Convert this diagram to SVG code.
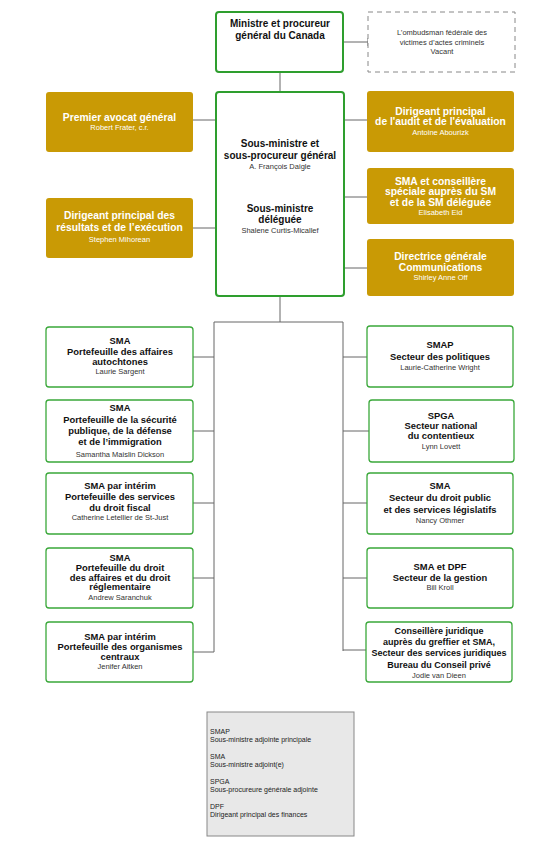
<svg xmlns="http://www.w3.org/2000/svg" width="557" height="844" viewBox="0 0 557 844">
<style>
text{font-family:"Liberation Sans",Arial,sans-serif;text-anchor:middle}
.b{font-weight:bold;font-size:10px;fill:#111}
.n{font-size:7.5px;fill:#333}
.gb{font-weight:bold;font-size:10.3px;fill:#fff}
.gn{font-size:7.5px;fill:#fff}
.lb{font-weight:bold;font-size:9.4px;fill:#111}
.gr{fill:#fff;stroke:#3aa83a;stroke-width:1.3}
.grt{fill:#fff;stroke:#2e9e2e;stroke-width:2}
.go{fill:#c99a05}
.c{stroke:#666;stroke-width:1;fill:none}
.lg{font-size:7px;fill:#222;text-anchor:start}
</style>
<rect width="557" height="844" fill="#fff"/>
<g id="connectors">
<path class="c" d="M343 42H368M368 38V46M280 72V92M193 120H216M193 228H216M344 120H367M344 197H367M344 268H367M280 296V322M214 322H343M214 322V652M343 322V651M193 357H214M193 431H214M193 503H214M193 578H214M193 652H214M343 357H367M343 431H369M343 503H367M343 578H367M343 650H366"/>
</g>
<g id="minister">
<rect class="grt" x="216" y="12" width="127" height="60" rx="3"/>
<text class="b" x="280" y="27">Ministre et procureur</text>
<text class="b" x="280" y="38.5">général du Canada</text>
</g>
<g id="ombudsman">
<rect x="368" y="12" width="147" height="60" fill="#fff" stroke="#888" stroke-width="1" stroke-dasharray="5,4"/>
<text class="n" x="442" y="35">L’ombudsman fédérale des</text>
<text class="n" x="442" y="44.5">victimes d’actes criminels</text>
<text class="n" x="442" y="53.5">Vacant</text>
</g>
<g id="sousministre">
<rect class="grt" x="216" y="92" width="128" height="204" rx="3"/>
<text class="b" x="280" y="147">Sous-ministre et</text>
<text class="b" x="280" y="159">sous-procureur général</text>
<text class="n" x="280" y="169">A. François Daigle</text>
<text class="b" x="280" y="212">Sous-ministre</text>
<text class="b" x="280" y="223">déléguée</text>
<text class="n" x="280" y="233">Shalene Curtis-Micallef</text>
</g>
<g id="premier-avocat">
<rect class="go" x="46" y="92" width="147" height="60" rx="3"/>
<text class="gb" x="119.5" y="120.5">Premier avocat général</text>
<text class="gn" x="119.5" y="129.5">Robert Frater, c.r.</text>
</g>
<g id="resultats">
<rect class="go" x="46" y="198" width="147" height="60" rx="3"/>
<text class="gb" x="119.5" y="219">Dirigeant principal des</text>
<text class="gb" x="119.5" y="231">résultats et de l’exécution</text>
<text class="gn" x="119.5" y="241.5">Stephen Mihorean</text>
</g>
<g id="audit">
<rect class="go" x="367" y="91" width="147" height="61" rx="3"/>
<text class="gb" x="440.5" y="114.5">Dirigeant principal</text>
<text class="gb" x="440.5" y="125">de l'audit et de l'évaluation</text>
<text class="gn" x="440.5" y="135">Antoine Abourizk</text>
</g>
<g id="conseillere-speciale">
<rect class="go" x="367" y="168" width="147" height="56" rx="3"/>
<text class="gb" x="440.5" y="184.5">SMA et conseillère</text>
<text class="gb" x="440.5" y="195">spéciale auprès du SM</text>
<text class="gb" x="440.5" y="205.5">et de la SM déléguée</text>
<text class="gn" x="440.5" y="215">Elisabeth Eid</text>
</g>
<g id="communications">
<rect class="go" x="367" y="239" width="147" height="57" rx="3"/>
<text class="gb" x="440.5" y="260">Directrice générale</text>
<text class="gb" x="440.5" y="271">Communications</text>
<text class="gn" x="440.5" y="280">Shirley Anne Off</text>
</g>
<g id="autochtones">
<rect class="gr" x="46" y="327" width="147" height="60" rx="3"/>
<text class="lb" x="120" y="344">SMA</text>
<text class="lb" x="120" y="354.5">Portefeuille des affaires</text>
<text class="lb" x="120" y="364.5">autochtones</text>
<text class="n" x="120" y="374">Laurie Sargent</text>
</g>
<g id="securite">
<rect class="gr" x="46" y="400" width="147" height="62" rx="3"/>
<text class="lb" x="120" y="411">SMA</text>
<text class="lb" x="120" y="422.5">Portefeuille de la sécurité</text>
<text class="lb" x="120" y="433.5">publique, de la défense</text>
<text class="lb" x="120" y="445">et de l’immigration</text>
<text class="n" x="120" y="456.5">Samantha Maislin Dickson</text>
</g>
<g id="fiscal">
<rect class="gr" x="46" y="473" width="147" height="61" rx="3"/>
<text class="lb" x="120" y="489">SMA par intérim</text>
<text class="lb" x="120" y="499.5">Portefeuille des services</text>
<text class="lb" x="120" y="511">du droit fiscal</text>
<text class="n" x="120" y="520">Catherine Letellier de St-Just</text>
</g>
<g id="reglementaire">
<rect class="gr" x="46" y="548" width="147" height="60" rx="3"/>
<text class="lb" x="120" y="561">SMA</text>
<text class="lb" x="120" y="570.5">Portefeuille du droit</text>
<text class="lb" x="120" y="580.5">des affaires et du droit</text>
<text class="lb" x="120" y="590">réglementaire</text>
<text class="n" x="120" y="599.5">Andrew Saranchuk</text>
</g>
<g id="organismes">
<rect class="gr" x="46" y="622" width="147" height="60" rx="3"/>
<text class="lb" x="120" y="639.5">SMA par intérim</text>
<text class="lb" x="120" y="649.5">Portefeuille des organismes</text>
<text class="lb" x="120" y="659.5">centraux</text>
<text class="n" x="120" y="669">Jenifer Aitken</text>
</g>
<g id="politiques">
<rect class="gr" x="367" y="326" width="146" height="61" rx="3"/>
<text class="lb" x="440" y="347.5">SMAP</text>
<text class="lb" x="440" y="360">Secteur des politiques</text>
<text class="n" x="440" y="369.5">Laurie-Catherine Wright</text>
</g>
<g id="contentieux">
<rect class="gr" x="369" y="400" width="145" height="62" rx="3"/>
<text class="lb" x="441" y="418.5">SPGA</text>
<text class="lb" x="441" y="428.5">Secteur national</text>
<text class="lb" x="441" y="438.5">du contentieux</text>
<text class="n" x="441" y="448.5">Lynn Lovett</text>
</g>
<g id="droit-public">
<rect class="gr" x="367" y="473" width="146" height="61" rx="3"/>
<text class="lb" x="440" y="489">SMA</text>
<text class="lb" x="440" y="501">Secteur du droit public</text>
<text class="lb" x="440" y="512.5">et des services législatifs</text>
<text class="n" x="440" y="522.5">Nancy Othmer</text>
</g>
<g id="gestion">
<rect class="gr" x="367" y="548" width="146" height="60" rx="3"/>
<text class="lb" x="440" y="570">SMA et DPF</text>
<text class="lb" x="440" y="580.5">Secteur de la gestion</text>
<text class="n" x="440" y="590">Bill Kroll</text>
</g>
<g id="bcp">
<rect class="gr" x="366" y="622" width="146" height="60" rx="3"/>
<text class="lb" x="439" y="633.5" style="font-size:9px">Conseillère juridique</text>
<text class="lb" x="439" y="644.5" style="font-size:9px">auprès du greffier et SMA,</text>
<text class="lb" x="439" y="655.5" style="font-size:9px">Secteur des services juridiques</text>
<text class="lb" x="439" y="668" style="font-size:9px">Bureau du Conseil privé</text>
<text class="n" x="439" y="677.5">Jodie van Dieen</text>
</g>
<g id="legend">
<rect x="207" y="712" width="147" height="124" fill="#e8e8e8" stroke="#888" stroke-width="1"/>
<text class="lg" x="210" y="733.5">SMAP</text>
<text class="lg" x="210" y="741.5">Sous-ministre adjointe principale</text>
<text class="lg" x="210" y="758.5">SMA</text>
<text class="lg" x="210" y="766.5">Sous-ministre adjoint(e)</text>
<text class="lg" x="210" y="783.5">SPGA</text>
<text class="lg" x="210" y="791.5">Sous-procureure générale adjointe</text>
<text class="lg" x="210" y="808.5">DPF</text>
<text class="lg" x="210" y="816.5">Dirigeant principal des finances</text>
</g>
</svg>
